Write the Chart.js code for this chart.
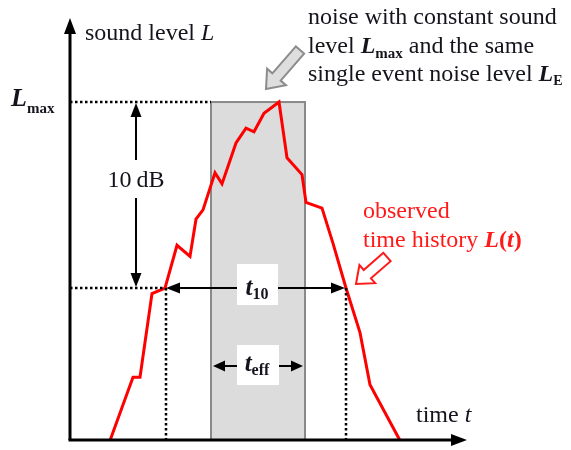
<!DOCTYPE html>
<html>
<head>
<meta charset="utf-8">
<script src="https://cdn.jsdelivr.net/npm/chart.js@4.4.0/dist/chart.umd.min.js"></script>
<style>
html,body{margin:0;padding:0;background:#fff;}
#wrap{width:571px;height:450px;position:relative;}
</style>
</head>
<body>
<div id="wrap"><canvas id="c"></canvas></div>
<script>
// time t (arbitrary units) and observed sound level L(t) in dB
const timeValues  = [4.0, 6.3, 7.0, 8.2, 9.5, 10.7, 12.0, 12.6, 13.3, 14.5, 15.2, 16.6, 17.6, 18.4, 19.4, 20.9, 21.7, 23.2, 23.6, 25.2, 26.3, 27.6, 29.0, 30.0, 33.0];
const levelValues = [61.8, 65.2, 65.2, 69.7, 70.0, 72.3, 71.7, 73.7, 74.2, 76.2, 75.6, 77.8, 78.6, 78.4, 79.4, 80.0, 77.0, 76.1, 74.6, 74.3, 72.4, 70.0, 67.6, 64.8, 61.8];
const levelMax = 80;          // L_max
const level10 = 70;           // L_max - 10 dB
const t10Range = [9.5, 27.6]; // t10 interval
const tEffRange = [14.1, 23.5]; // equivalent constant-level duration t_eff
const axisRangeT = [0, 39.7];
const axisRangeL = [61.83, 84.41];

const SERIF = '"Liberation Serif","DejaVu Serif",serif';
const INK = '#14141c';

function arrowHead(ctx, x, y, dx, dy, len, half) {
  const n = Math.hypot(dx, dy); const ux = dx / n, uy = dy / n;
  ctx.beginPath();
  ctx.moveTo(x, y);
  ctx.lineTo(x - ux * len - uy * half, y - uy * len + ux * half);
  ctx.lineTo(x - ux * len + uy * half, y - uy * len - ux * half);
  ctx.closePath();
  ctx.fill();
}
function line(ctx, x1, y1, x2, y2) {
  ctx.beginPath(); ctx.moveTo(x1, y1); ctx.lineTo(x2, y2); ctx.stroke();
}
function blockArrow(ctx, tx, ty, hx, hy, sw, hw, hl, fill, stroke) {
  const n = Math.hypot(hx - tx, hy - ty); const ux = (hx - tx) / n, uy = (hy - ty) / n;
  const px = -uy, py = ux;
  const bx = hx - ux * hl, by = hy - uy * hl;
  ctx.beginPath();
  ctx.moveTo(tx + px * sw, ty + py * sw);
  ctx.lineTo(bx + px * sw, by + py * sw);
  ctx.lineTo(bx + px * hw, by + py * hw);
  ctx.lineTo(hx, hy);
  ctx.lineTo(bx - px * hw, by - py * hw);
  ctx.lineTo(bx - px * sw, by - py * sw);
  ctx.lineTo(tx - px * sw, ty - py * sw);
  ctx.closePath();
  ctx.fillStyle = fill; ctx.fill();
  ctx.strokeStyle = stroke; ctx.lineWidth = 2; ctx.lineJoin = 'miter'; ctx.stroke();
}
// draw runs of [text, font, dy]
function runs(ctx, x, y, parts, color, align) {
  ctx.fillStyle = color; ctx.textBaseline = 'alphabetic'; ctx.textAlign = 'left';
  let total = 0;
  parts.forEach(p => { ctx.font = p[1]; total += ctx.measureText(p[0]).width; });
  let cx = align === 'center' ? x - total / 2 : x;
  parts.forEach(p => { ctx.font = p[1]; ctx.fillText(p[0], cx, y + (p[2] || 0)); cx += ctx.measureText(p[0]).width; });
}

const bgPlugin = {
  id: 'bg',
  beforeDatasetsDraw(chart) {
    const ctx = chart.ctx, xs = chart.scales.x, ys = chart.scales.y;
    const x1 = xs.getPixelForValue(tEffRange[0]), x2 = xs.getPixelForValue(tEffRange[1]);
    const yTop = ys.getPixelForValue(levelMax), yBot = ys.getPixelForValue(axisRangeL[0]);
    ctx.save();
    ctx.fillStyle = '#dcdcdc';
    ctx.fillRect(x1, yTop, x2 - x1, yBot - yTop);
    ctx.strokeStyle = '#8a8a8a'; ctx.lineWidth = 2;
    ctx.strokeRect(x1, yTop, x2 - x1, yBot - yTop);
    ctx.restore();
  },
  afterDatasetsDraw(chart) {
    const ctx = chart.ctx, xs = chart.scales.x, ys = chart.scales.y, ca = chart.chartArea;
    const X = v => xs.getPixelForValue(v), Y = v => ys.getPixelForValue(v);
    const yMax = Y(levelMax), y10 = Y(level10), y0 = ca.bottom;
    ctx.save();
    // dotted lines
    ctx.strokeStyle = '#000'; ctx.lineWidth = 2.5; ctx.setLineDash([2.5, 2.5]);
    line(ctx, ca.left, yMax, X(tEffRange[0]), yMax);
    line(ctx, ca.left, y10, X(t10Range[0]), y10);
    line(ctx, X(t10Range[0]) + 1, y10, X(t10Range[0]) + 1, y0);
    line(ctx, X(t10Range[1]), y10, X(t10Range[1]), y0);
    ctx.setLineDash([]);

    // axes with arrows
    ctx.strokeStyle = '#000'; ctx.fillStyle = '#000'; ctx.lineWidth = 3;
    line(ctx, ca.left, y0, ca.left, ca.top + 10);
    arrowHead(ctx, ca.left, ca.top - 2, 0, -1, 16, 6);
    line(ctx, ca.left - 1.5, y0, ca.right - 10, y0);
    arrowHead(ctx, ca.right, y0, 1, 0, 16, 6);

    // 10 dB arrow
    const xa = 136;
    ctx.lineWidth = 2;
    line(ctx, xa, yMax + 10, xa, 160);
    line(ctx, xa, 198, xa, y10 - 10);
    arrowHead(ctx, xa, yMax + 1, 0, -1, 14, 5.5);
    arrowHead(ctx, xa, y10 - 1, 0, 1, 14, 5.5);
    ctx.font = '24px ' + SERIF; ctx.fillStyle = INK; ctx.textAlign = 'center'; ctx.textBaseline = 'alphabetic';
    ctx.fillText('10\u2009dB', xa, 187);

    // t10 arrow
    ctx.fillStyle = '#000';
    const ta = X(t10Range[0]), tb = X(t10Range[1]);
    line(ctx, ta + 10, y10, tb - 10, y10);
    arrowHead(ctx, ta + 1, y10, -1, 0, 14, 5.5);
    arrowHead(ctx, tb - 1, y10, 1, 0, 14, 5.5);
    ctx.fillStyle = '#fff'; ctx.fillRect(237, 264, 41, 41);
    runs(ctx, 257, 295, [['t', 'italic bold 25px ' + SERIF], ['10', 'bold 16px ' + SERIF, 4]], INK, 'center');

    // teff arrow
    const ea = X(tEffRange[0]), eb = X(tEffRange[1]), ye = 366;
    ctx.fillStyle = '#000';
    line(ctx, ea + 10, ye, eb - 10, ye);
    arrowHead(ctx, ea + 2, ye, -1, 0, 12, 5.5);
    arrowHead(ctx, eb - 2, ye, 1, 0, 12, 5.5);
    ctx.fillStyle = '#fff'; ctx.fillRect(237, 345, 42, 40);
    runs(ctx, 257, 371, [['t', 'italic bold 25px ' + SERIF], ['eff', 'bold 16px ' + SERIF, 4]], INK, 'center');

    // labels
    runs(ctx, 85, 40, [['sound level ', '24px ' + SERIF], ['L', 'italic 24px ' + SERIF]], INK);
    runs(ctx, 11, 106, [['L', 'italic bold 26px ' + SERIF], ['max', 'bold 15px ' + SERIF, 7]], INK);
    runs(ctx, 416, 422, [['time ', '24px ' + SERIF], ['t', 'italic 24px ' + SERIF]], INK);

    // annotation top
    runs(ctx, 308, 24, [['noise with constant sound', '24px ' + SERIF]], INK);
    runs(ctx, 308, 53, [['level ', '24px ' + SERIF], ['L', 'italic bold 24px ' + SERIF], ['max', 'bold 15px ' + SERIF, 5], [' and the same', '24px ' + SERIF]], INK);
    runs(ctx, 308, 81, [['single event noise level ', '24px ' + SERIF], ['L', 'italic bold 24px ' + SERIF], ['E', 'bold 14px ' + SERIF, 4]], INK);

    // observed label (red)
    runs(ctx, 363, 218, [['observed', '24px ' + SERIF]], '#ff1a1a');
    runs(ctx, 363, 247, [['time history ', '24px ' + SERIF], ['L', 'italic bold 24px ' + SERIF], ['(', 'bold 24px ' + SERIF], ['t', 'italic bold 24px ' + SERIF], [')', 'bold 24px ' + SERIF]], '#ff1a1a');

    // block arrows
    blockArrow(ctx, 300, 50, 266, 89, 5.5, 12.5, 16, '#dedede', '#8c8c8c');
    blockArrow(ctx, 387, 257, 356, 284, 5.5, 12, 15, '#ffffff', '#ff1a1a');
    ctx.restore();
  }
};

new Chart(document.getElementById('c'), {
  type: 'line',
  data: {
    datasets: [{
      data: timeValues.map((t, i) => ({ x: t, y: levelValues[i] })),
      borderColor: '#ff0000',
      borderWidth: 3,
      pointRadius: 0,
      tension: 0,
      fill: false
    }]
  },
  options: {
    responsive: true,
    maintainAspectRatio: false,
    animation: false,
    layout: { padding: { left: 70, top: 20, right: 104, bottom: 10 } },
    plugins: { legend: { display: false }, tooltip: { enabled: false } },
    scales: {
      x: { type: 'linear', min: axisRangeT[0], max: axisRangeT[1], display: false },
      y: { type: 'linear', min: axisRangeL[0], max: axisRangeL[1], display: false }
    }
  },
  plugins: [bgPlugin]
});
</script>
</body>
</html>
